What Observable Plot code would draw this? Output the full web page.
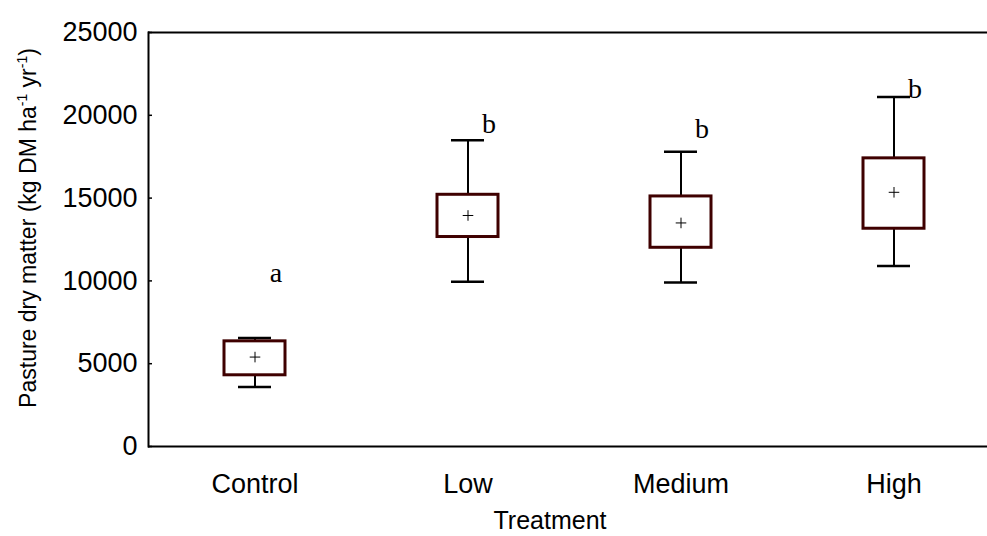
<!DOCTYPE html>
<html>
<head>
<meta charset="utf-8">
<script src="https://cdn.jsdelivr.net/npm/d3@7"></script>
<script src="https://cdn.jsdelivr.net/npm/@observablehq/plot@0.6"></script>
<style>
  body { margin: 0; background: #fff; }
  #chart svg { display: block; }
</style>
</head>
<body>
<div id="chart"></div>
<script>
// Annual pasture dry matter by fertiliser treatment (kg DM / ha / yr)
const treatments   = ["Control", "Low", "Medium", "High"];
const whiskerMin   = [3600, 9950, 9900, 10900];
const quartileLow  = [4300, 12650, 12000, 13150];
const quartileHigh = [6350, 15200, 15100, 17400];
const whiskerMax   = [6550, 18500, 17800, 21100];
const means        = [5400, 13950, 13500, 15350];
const groupLetters = ["a", "b", "b", "b"];
const letterLevel  = [10450, 19500, 19200, 21600];
const yTicks       = [0, 5000, 10000, 15000, 20000, 25000];

const rows = treatments.map((t, i) => ({
  treatment: t,
  min: whiskerMin[i],
  q1: quartileLow[i],
  q3: quartileHigh[i],
  max: whiskerMax[i],
  mean: means[i],
  letter: groupLetters[i],
  letterY: letterLevel[i]
}));

const W = 987, H = 536;
const mLeft = 148, mTop = 32, mBottom = 90;
const sans = "'Liberation Sans', Arial, Helvetica, sans-serif";
const serif = "'Liberation Serif', 'Times New Roman', serif";
const boxColor = "#3f0000";
const tickSize = 27;

const chart = Plot.plot({
  width: W,
  height: H,
  marginLeft: mLeft,
  marginRight: 0,
  marginTop: mTop,
  marginBottom: mBottom,
  style: { fontFamily: sans, fontSize: tickSize + "px", background: "#fff", color: "#000" },
  x: { domain: treatments, range: [mLeft, mLeft + 4 * 213], padding: 0, label: null },
  y: { domain: [0, 25000], label: null },
  marks: [
    // frame: bottom, top and left edges
    Plot.ruleY([0, 25000], { stroke: "#000", strokeWidth: 2 }),
    Plot.frame({ anchor: "left", stroke: "#000", strokeWidth: 2 }),
    // small inward ticks on the value axis
    Plot.ruleY(yTicks, { stroke: "#000", strokeWidth: 1.5, insetRight: W - mLeft - 4 }),
    Plot.axisY({ ticks: yTicks, tickFormat: d3.format("d"), tickSize: 0, tickPadding: 11, fontSize: tickSize, label: null }),
    Plot.axisX({ tickSize: 0, tickPadding: 27, fontSize: tickSize, label: null }),
    // whiskers
    Plot.ruleX(rows, { x: "treatment", y1: "min", y2: "q1", stroke: "#000", strokeWidth: 2 }),
    Plot.ruleX(rows, { x: "treatment", y1: "q3", y2: "max", stroke: "#000", strokeWidth: 2 }),
    Plot.tickY(rows, { x: "treatment", y: "min", stroke: "#000", strokeWidth: 2.5, insetLeft: 90, insetRight: 90 }),
    Plot.tickY(rows, { x: "treatment", y: "max", stroke: "#000", strokeWidth: 2.5, insetLeft: 90, insetRight: 90 }),
    // interquartile boxes
    Plot.barY(rows, { x: "treatment", y1: "q1", y2: "q3", fill: "#fff", stroke: boxColor, strokeWidth: 3, insetLeft: 76, insetRight: 76 }),
    // means
    Plot.dot(rows, { x: "treatment", y: "mean", symbol: "plus", r: 3.5, stroke: "#000", strokeWidth: 1 }),
    // significance letters
    Plot.text(rows, { x: "treatment", y: "letterY", text: "letter", dx: 21, fontFamily: serif, fontSize: 28, fill: "#000" })
  ]
});

const svg = d3.select(chart);

// value axis title with superscript exponents
const yTitle = svg.append("text")
  .attr("transform", "translate(36,228) rotate(-90)")
  .attr("text-anchor", "middle")
  .attr("font-family", sans)
  .attr("font-size", 23)
  .attr("fill", "#000");
yTitle.append("tspan").text("Pasture dry matter (kg DM ha");
yTitle.append("tspan").attr("font-size", 14).attr("dy", -9).text("-1");
yTitle.append("tspan").attr("dy", 9).text(" yr");
yTitle.append("tspan").attr("font-size", 14).attr("dy", -9).text("-1");
yTitle.append("tspan").attr("dy", 9).text(")");

// category axis title
svg.append("text")
  .attr("x", 550)
  .attr("y", 529)
  .attr("text-anchor", "middle")
  .attr("font-family", sans)
  .attr("font-size", 25)
  .attr("fill", "#000")
  .text("Treatment");

document.getElementById("chart").appendChild(chart);
</script>
</body>
</html>
